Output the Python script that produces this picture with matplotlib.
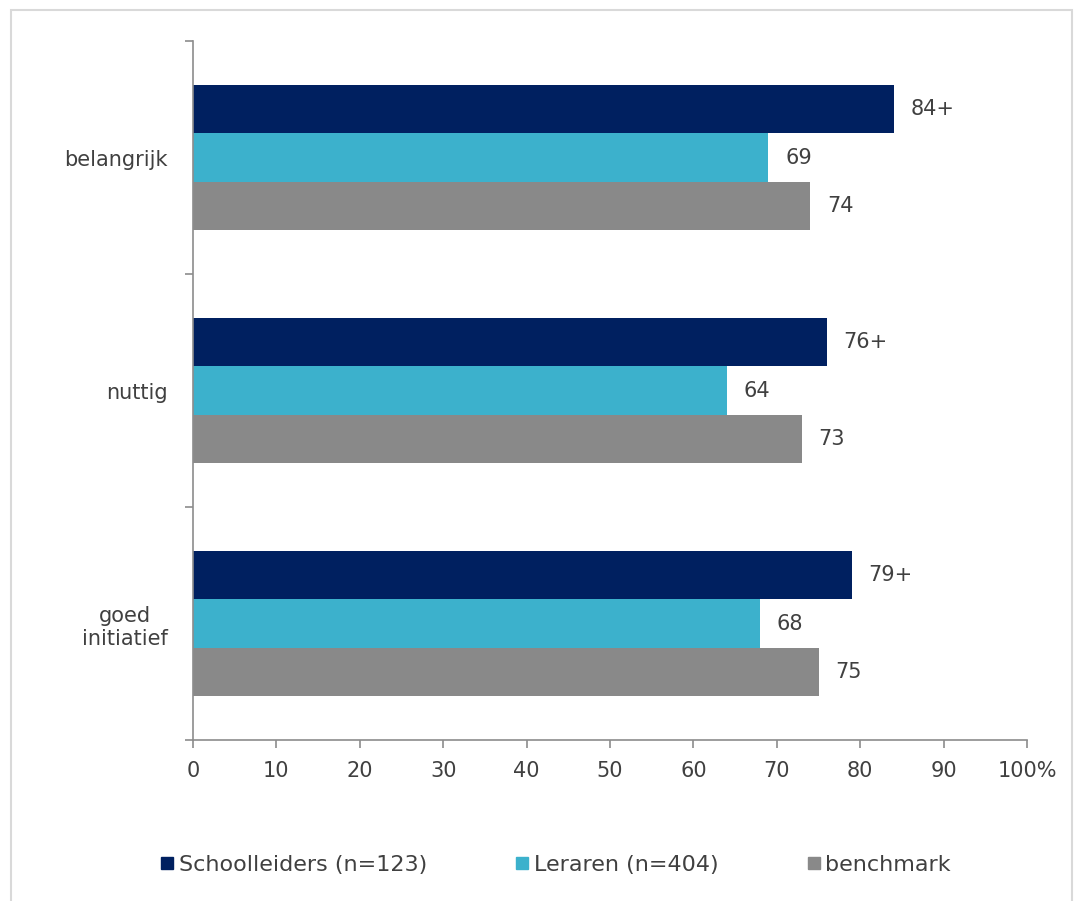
import matplotlib.pyplot as plt
from matplotlib.patches import Rectangle
from matplotlib.lines import Line2D

categories = ['belangrijk', 'nuttig', 'goed\ninitiatief']
series_names = ['Schoolleiders (n=123)', 'Leraren (n=404)', 'benchmark']
schoolleiders = [84, 76, 79]
leraren = [69, 64, 68]
benchmark = [74, 73, 75]
value_labels = [['84+', '76+', '79+'],
                ['69', '64', '68'],
                ['74', '73', '75']]
x_ticks = [0, 10, 20, 30, 40, 50, 60, 70, 80, 90, 100]
x_ticklabels = ['0', '10', '20', '30', '40', '50', '60', '70', '80', '90', '100%']

colors = ['#002060', '#3CB1CC', '#898989']
text_col = '#404040'
axis_col = '#8c8c8c'
fs = 15

plt.rcParams['font.family'] = ['DejaVu Sans']

fig = plt.figure(figsize=(10.83, 9.01), dpi=100)
ax = fig.add_axes([193 / 1083, 1 - 740 / 901, (1027 - 193) / 1083, (740 - 41) / 901])

# outer frame (open at the bottom, as in the reference)
fig.add_artist(Rectangle((11 / 1083, -0.05), (1072 - 11) / 1083, 1.05 - 10 / 901,
                         transform=fig.transFigure, fill=False,
                         edgecolor='#d9d9d9', linewidth=1.5))

bar_h = 0.207
series = [schoolleiders, leraren, benchmark]
for i, vals in enumerate(series):
    offset = (i - 1) * bar_h
    for j, v in enumerate(vals):
        ax.barh(j + offset, v, height=bar_h, color=colors[i], edgecolor='none')
        ax.annotate(value_labels[i][j], (v, j + offset), xytext=(12, 0),
                    textcoords='offset points', va='center', ha='left',
                    fontsize=fs, color=text_col)

ax.set_xlim(0, 100)
ax.set_ylim(2.5, -0.5)
ax.set_xticks(x_ticks)
ax.set_xticklabels(x_ticklabels, fontsize=fs, color=text_col)
ax.set_yticks(range(len(categories)))
ax.set_yticklabels(categories, fontsize=fs, color=text_col, multialignment='center')
ax.set_yticks([-0.5, 0.5, 1.5, 2.5], minor=True)
ax.tick_params(axis='y', which='major', length=0, pad=18)
ax.tick_params(axis='y', which='minor', length=6, color=axis_col, width=1.2)
ax.tick_params(axis='x', length=6, color=axis_col, width=1.2, pad=9)

for s in ['top', 'right']:
    ax.spines[s].set_visible(False)
for s in ['left', 'bottom']:
    ax.spines[s].set_color(axis_col)
    ax.spines[s].set_linewidth(1.2)

handles = [Line2D([0], [0], marker='s', linestyle='none', markersize=9,
                  markerfacecolor=c, markeredgecolor=c) for c in colors]
leg = fig.legend(handles, series_names, loc='center', ncol=3,
                 bbox_to_anchor=(556 / 1083, 1 - 865 / 901), frameon=False,
                 fontsize=16, handlelength=0.55, handletextpad=0.25, columnspacing=4.0)
for t in leg.get_texts():
    t.set_color(text_col)

fig.savefig('out.png', dpi=100)
